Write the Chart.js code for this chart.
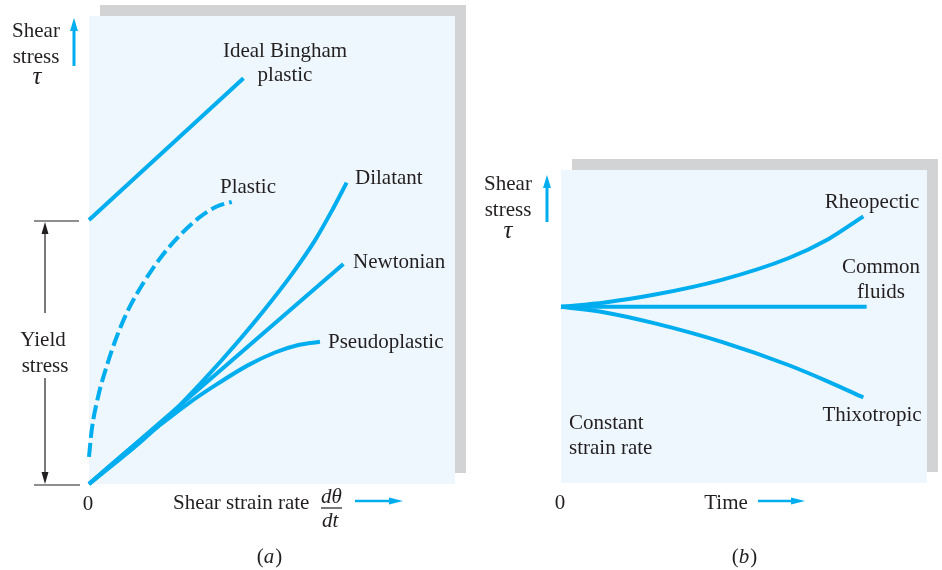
<!DOCTYPE html>
<html>
<head>
<meta charset="utf-8">
<script src="https://cdn.jsdelivr.net/npm/chart.js@4.4.0/dist/chart.umd.min.js"></script>
<style>
html, body { margin: 0; padding: 0; background: #fff; }
#wrap { position: relative; width: 942px; height: 570px; }
canvas { position: absolute; left: 0; top: 0; }
</style>
</head>
<body>
<div id="wrap">
    <canvas id="chartA" width="942" height="570"></canvas>
    <canvas id="chartB" width="942" height="570"></canvas>
</div>
<script>
// (a) shear stress vs shear strain rate (arbitrary units 0-100)
const binghamX = [0, 42.2];
const binghamY = [56.4, 86.7];
const plasticX = [0, 0.74, 2.5, 4.8, 7.6, 10.7, 14.8, 19.4, 24.4, 29.9, 34.9, 39.0];
const plasticY = [5.8, 11.5, 18.7, 25.1, 31.5, 37.2, 42.9, 48.2, 52.8, 56.8, 59.3, 60.3];
const dilatantX = [0, 14.4, 23.5, 31.7, 39.9, 48.1, 55.4, 61.7, 66.3, 70.4];
const dilatantY = [0, 9.2, 15.8, 22.5, 29.7, 37.4, 44.8, 52.0, 58.3, 64.4];
const newtonianX = [0, 69.5];
const newtonianY = [0, 47.0];
const pseudoX = [0, 9.8, 18.9, 27.1, 35.3, 43.5, 50.8, 57.2, 63.1];
const pseudoY = [0, 6.6, 12.3, 17.2, 21.5, 25.4, 28.1, 29.7, 30.4];

// (b) shear stress vs time at constant strain rate
const commonX = [0, 83.5];
const commonY = [56.3, 56.3];
const rheoX = [0, 12.0, 25.7, 43.9, 62.1, 73.0, 82.6];
const rheoY = [56.3, 57.7, 60.2, 64.9, 71.8, 77.9, 85.2];
const thixoX = [0, 12.0, 25.7, 43.9, 62.1, 73.0, 82.6];
const thixoY = [56.3, 54.5, 51.0, 45.1, 37.7, 32.4, 27.3];

const AZUL = '#00aeef';
const TINTA = '#231f20';
const FONDO = '#eef7fd';
const SOMBRA = '#d1d3d4';
const FUENTE = '"Liberation Serif", "Times New Roman", serif';

function puntos(xs, ys) {
    return xs.map((x, i) => ({ x: x, y: ys[i] }));
}

function serie(xs, ys, dash) {
    return {
        data: puntos(xs, ys),
        showLine: true,
        borderColor: AZUL,
        borderWidth: 4,
        borderDash: dash || [],
        borderCapStyle: 'butt',
        pointRadius: 0,
        cubicInterpolationMode: 'monotone',
        fill: false,
        clip: 6
    };
}

// panel de fondo con sombra gris
function dibujarPanel(ctx, area) {
    ctx.save();
    ctx.fillStyle = SOMBRA;
    ctx.fillRect(area.left + 11, area.top - 11, area.right - area.left, area.bottom - area.top);
    ctx.fillStyle = FONDO;
    ctx.fillRect(area.left, area.top, area.right - area.left, area.bottom - area.top);
    ctx.restore();
}

function texto(ctx, str, x, y, align, estilo, tam) {
    ctx.font = (estilo || '') + ' ' + (tam || 21) + 'px ' + FUENTE;
    ctx.fillStyle = TINTA;
    ctx.textAlign = align || 'center';
    ctx.textBaseline = 'alphabetic';
    ctx.fillText(str, x, y);
}

// "(a)" con la letra en cursiva
function rotulo(ctx, letra, cx, y) {
    ctx.font = '21px ' + FUENTE;
    const wp = ctx.measureText('(').width;
    const wc = ctx.measureText(')').width;
    ctx.font = 'italic 21px ' + FUENTE;
    const wl = ctx.measureText(letra).width;
    let x = cx - (wp + wl + wc) / 2;
    texto(ctx, '(', x, y, 'left');
    x += wp;
    texto(ctx, letra, x, y, 'left', 'italic');
    x += wl + 1;
    texto(ctx, ')', x, y, 'left');
}

function flecha(ctx, x1, y1, x2, y2, color, ancho, largo, alto) {
    const ang = Math.atan2(y2 - y1, x2 - x1);
    const bx = x2 - largo * Math.cos(ang);
    const by = y2 - largo * Math.sin(ang);
    ctx.save();
    ctx.strokeStyle = color;
    ctx.fillStyle = color;
    ctx.lineWidth = ancho;
    ctx.beginPath();
    ctx.moveTo(x1, y1);
    ctx.lineTo(bx + Math.cos(ang) * 2, by + Math.sin(ang) * 2);
    ctx.stroke();
    ctx.beginPath();
    ctx.moveTo(x2, y2);
    ctx.lineTo(bx - alto / 2 * Math.sin(ang), by + alto / 2 * Math.cos(ang));
    ctx.lineTo(bx + alto / 2 * Math.sin(ang), by - alto / 2 * Math.cos(ang));
    ctx.closePath();
    ctx.fill();
    ctx.restore();
}

function linea(ctx, x1, y1, x2, y2) {
    ctx.save();
    ctx.strokeStyle = TINTA;
    ctx.lineWidth = 1.2;
    ctx.beginPath();
    ctx.moveTo(x1, y1);
    ctx.lineTo(x2, y2);
    ctx.stroke();
    ctx.restore();
}

const panelA = {
    id: 'panelA',
    beforeDraw(chart) {
        dibujarPanel(chart.ctx, chart.chartArea);
    },
    afterDraw(chart) {
        const ctx = chart.ctx;
        ctx.save();
        texto(ctx, 'Shear', 36, 37);
        texto(ctx, 'stress', 36, 63);
        texto(ctx, 'τ', 37, 84, 'center', 'italic', 25);
        flecha(ctx, 74, 66, 74, 18, AZUL, 3, 13, 8);

        texto(ctx, 'Ideal Bingham', 285, 57);
        texto(ctx, 'plastic', 285, 81);
        texto(ctx, 'Plastic', 248, 193);
        texto(ctx, 'Dilatant', 355, 184, 'left');
        texto(ctx, 'Newtonian', 353, 268, 'left');
        texto(ctx, 'Pseudoplastic', 328, 348, 'left');

        // esfuerzo de fluencia
        linea(ctx, 34, 221, 79, 221);
        linea(ctx, 34, 485, 80, 485);
        flecha(ctx, 45, 313, 45, 222, TINTA, 1.2, 12, 7);
        flecha(ctx, 45, 378, 45, 484, TINTA, 1.2, 12, 7);
        texto(ctx, 'Yield', 43, 346);
        texto(ctx, 'stress', 45, 372);

        texto(ctx, '0', 88, 510);
        texto(ctx, 'Shear strain rate', 173, 509, 'left');
        texto(ctx, 'dθ', 321, 503, 'left', 'italic');
        linea(ctx, 321, 508, 342, 508);
        texto(ctx, 'dt', 322, 527, 'left', 'italic');
        flecha(ctx, 355, 501, 403, 501, AZUL, 2.5, 14, 7);

        rotulo(ctx, 'a', 269, 563);
        ctx.restore();
    }
};

const panelB = {
    id: 'panelB',
    beforeDraw(chart) {
        dibujarPanel(chart.ctx, chart.chartArea);
    },
    afterDraw(chart) {
        const ctx = chart.ctx;
        ctx.save();
        texto(ctx, 'Shear', 508, 190);
        texto(ctx, 'stress', 508, 216);
        texto(ctx, 'τ', 508, 238, 'center', 'italic', 25);
        flecha(ctx, 547, 222, 547, 175, AZUL, 3, 13, 8);

        texto(ctx, 'Rheopectic', 872, 208);
        texto(ctx, 'Common', 881, 273);
        texto(ctx, 'fluids', 881, 298);
        texto(ctx, 'Thixotropic', 872, 421);
        texto(ctx, 'Constant', 569, 429, 'left');
        texto(ctx, 'strain rate', 569, 454, 'left');

        texto(ctx, '0', 560, 509);
        texto(ctx, 'Time', 726, 509);
        flecha(ctx, 758, 501, 805, 501, AZUL, 2.5, 14, 7);

        rotulo(ctx, 'b', 744, 563);
        ctx.restore();
    }
};

function opciones(pad) {
    return {
        responsive: false,
        animation: false,
        layout: { padding: pad },
        plugins: { legend: { display: false }, tooltip: { enabled: false } },
        scales: {
            x: { type: 'linear', min: 0, max: 100, display: false },
            y: { type: 'linear', min: 0, max: 100, display: false }
        }
    };
}

new Chart(document.getElementById('chartA').getContext('2d'), {
    type: 'scatter',
    data: {
        datasets: [
            serie(binghamX, binghamY),
            serie(plasticX, plasticY, [14, 5]),
            serie(dilatantX, dilatantY),
            serie(newtonianX, newtonianY),
            serie(pseudoX, pseudoY)
        ]
    },
    options: opciones({ left: 89, top: 16, right: 487, bottom: 86 }),
    plugins: [panelA]
});

new Chart(document.getElementById('chartB').getContext('2d'), {
    type: 'scatter',
    data: {
        datasets: [
            serie(commonX, commonY),
            serie(rheoX, rheoY),
            serie(thixoX, thixoY)
        ]
    },
    options: opciones({ left: 561, top: 170, right: 15, bottom: 87 }),
    plugins: [panelB]
});
</script>
</body>
</html>
